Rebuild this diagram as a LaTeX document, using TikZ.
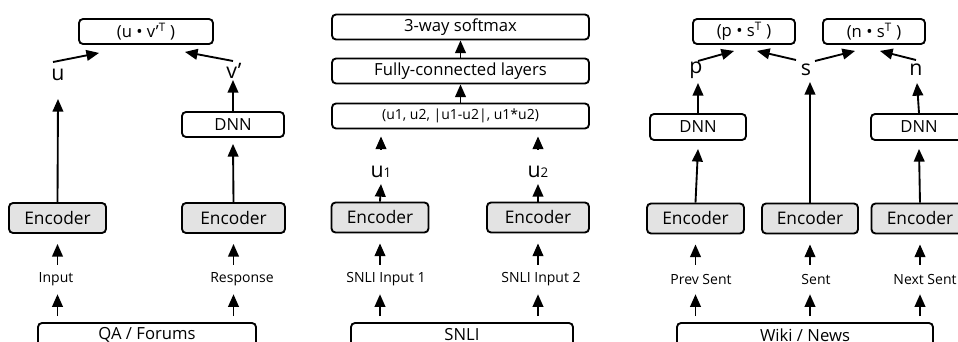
\documentclass[tikz,border=0pt]{standalone}
\usepackage{fontspec}
\setmainfont{Open Sans}
\usetikzlibrary{arrows.meta,calc}

\begin{document}
\begin{tikzpicture}[x=0.75pt,y=-0.75pt,
    box/.style={draw=black, line width=1.4pt, rounded corners=3pt, fill=white, inner sep=0pt,
        minimum height=18.75pt, font=\fontsize{12.5}{15}\selectfont},
    enc/.style={box, fill=gray!22, minimum width=72.75pt, minimum height=22.5pt, font=\fontsize{13}{15}\selectfont},
    lbl/.style={inner sep=0pt, minimum height=21.75pt, font=\fontsize{10.5}{12}\selectfont},
    vec/.style={inner sep=0pt, font=\fontsize{16}{18}\selectfont},
    arr/.style={line width=1.4pt, -{Triangle[length=9.5pt,width=8pt]}}]

    \useasboundingbox (0,0) rectangle (958,342);
    \clip (0,0) rectangle (958,342);

    \node[box, minimum width=100.5pt] (uv) at (146,31.5) {(u • v’\textsuperscript{T} )};
    \node[vec] (u) at (58,75) {u};
    \node[vec] (v) at (234,71) {v’};
    \node[box, minimum width=76.5pt] (dnn1) at (233,124.5) {DNN};
    \node[enc] (enc1) at (57.5,218) {Encoder};
    \node[enc, minimum width=77.25pt] (enc2) at (233.5,218) {Encoder};
    \node[lbl] (inp) at (56,279.5) {Input};
    \node[lbl] (resp) at (242,279.5) {Response};
    \node[box, minimum width=163.5pt, minimum height=18pt] (qa) at (147,335) {QA / Forums};

    \node[box, minimum width=192.75pt] (soft) at (460.5,27) {3-way softmax};
    \node[box, minimum width=192.75pt] (fc) at (460.5,71) {Fully-connected layers};
    \node[box, minimum width=192.75pt, font=\fontsize{10.5}{12}\selectfont] (cat) at (460.5,116) {(u1, u2, |u1-u2|, u1*u2)};
    \node[vec] (u1) at (381,172) {u{\fontsize{10}{12}\selectfont 1}};
    \node[vec] (u2) at (538,172) {u{\fontsize{10}{12}\selectfont 2}};
    \node[enc] (encA) at (380,217.5) {Encoder};
    \node[enc, minimum width=76.5pt] (encB) at (538,217.5) {Encoder};
    \node[lbl] (in1) at (386,279.5) {SNLI Input 1};
    \node[lbl] (in2) at (541,279.5) {SNLI Input 2};
    \node[box, minimum width=166.5pt, minimum height=18pt] (snli) at (462,335) {SNLI};

    \node[box, minimum width=76.5pt] (ps) at (744,31.5) {(p • s\textsuperscript{T} )};
    \node[box, minimum width=76.5pt] (ns) at (874,31.5) {(n • s\textsuperscript{T} )};
    \node[vec] (p) at (696,70) {p};
    \node[vec] (s) at (806,70) {s};
    \node[vec] (n) at (916,70) {n};
    \node[box, minimum width=72pt, minimum height=19.5pt] (dnnL) at (698,127) {DNN};
    \node[box, minimum width=72pt, minimum height=19.5pt] (dnnR) at (919,127) {DNN};
    \node[enc] (encP) at (695.5,218.5) {Encoder};
    \node[enc, minimum width=72pt] (encS) at (810,218.5) {Encoder};
    \node[enc] (encN) at (920,218.5) {Encoder};
    \node[lbl] (prev) at (701,279.5) {Prev Sent};
    \node[lbl] (sent) at (816,279.5) {Sent};
    \node[lbl] (next) at (925,279.5) {Next Sent};
    \node[box, minimum width=192pt, minimum height=18pt] (wiki) at (805,335) {Wiki / News};

    \draw[arr] ($(u)+(-5,-13)$) -- ($(uv.south west)+(21,8)$);
    \draw[arr] ($(v)+(-1,-10)$) -- ($(uv.south east)+(-29,7)$);
    \draw[arr] (enc1.north) -- ($(u)+(0,24)$);
    \draw[arr] (dnn1.north) -- ($(v)+(-1,9)$);
    \draw[arr] (enc2.north) -- ($(dnn1.south)+(0,6)$);
    \draw[arr, shorten <=4.5pt] (qa.north -| enc1) -- (inp.south -| enc1);
    \draw[arr, shorten >=7.5pt] (inp.north -| enc1) -- (enc1.south);
    \draw[arr, shorten <=4.5pt] (qa.north -| enc2) -- (resp.south -| enc2);
    \draw[arr, shorten >=7.5pt] (resp.north -| enc2) -- (enc2.south);

    \draw[arr] (fc.north) -- (soft.south);
    \draw[arr] (cat.north) -- (fc.south);
    \draw[arr] ($(u1)+(0,-22)$) -- ($(cat.south -| u1)+(0,7)$);
    \draw[arr] ($(u2)+(0,-22)$) -- ($(cat.south -| u2)+(0,7)$);
    \draw[arr] (encA.north) -- ($(u1)+(0,12)$);
    \draw[arr] (encB.north) -- ($(u2)+(0,12)$);
    \draw[arr, shorten <=4.5pt] (snli.north -| encA) -- (in1.south -| encA);
    \draw[arr, shorten >=7.5pt] (in1.north -| encA) -- (encA.south);
    \draw[arr, shorten <=4.5pt] (snli.north -| encB) -- (in2.south -| encB);
    \draw[arr, shorten >=7.5pt] (in2.north -| encB) -- (encB.south);

    \draw[arr] ($(p)+(2,-9)$) -- ($(ps.south west)+(42,6)$);
    \draw[arr] ($(s)+(-10,-10)$) -- ($(ps.south east)+(-39,6)$);
    \draw[arr] ($(s)+(9,-9)$) -- ($(ns.south west)+(33,6)$);
    \draw[arr] ($(n)+(0,-10)$) -- ($(ns.south east)+(-46,6)$);
    \draw[arr] (dnnL.north) -- ($(p)+(2,13)$);
    \draw[arr] (dnnR.north) -- ($(n)+(1,13)$);
    \draw[arr] (encP.north) -- ($(dnnL.south)+(0,8)$);
    \draw[arr] (encS.north) -- ($(s)+(4,12)$);
    \draw[arr] (encN.north) -- ($(dnnR.south)+(0,8)$);
    \draw[arr, shorten <=4.5pt] (wiki.north -| encP) -- (prev.south -| encP);
    \draw[arr, shorten >=7.5pt] (prev.north -| encP) -- (encP.south);
    \draw[arr, shorten <=4.5pt] (wiki.north -| encS) -- (sent.south -| encS);
    \draw[arr, shorten >=7.5pt] (sent.north -| encS) -- (encS.south);
    \draw[arr, shorten <=4.5pt] (wiki.north -| encN) -- (next.south -| encN);
    \draw[arr, shorten >=7.5pt] (next.north -| encN) -- (encN.south);

\end{tikzpicture}
\end{document}
